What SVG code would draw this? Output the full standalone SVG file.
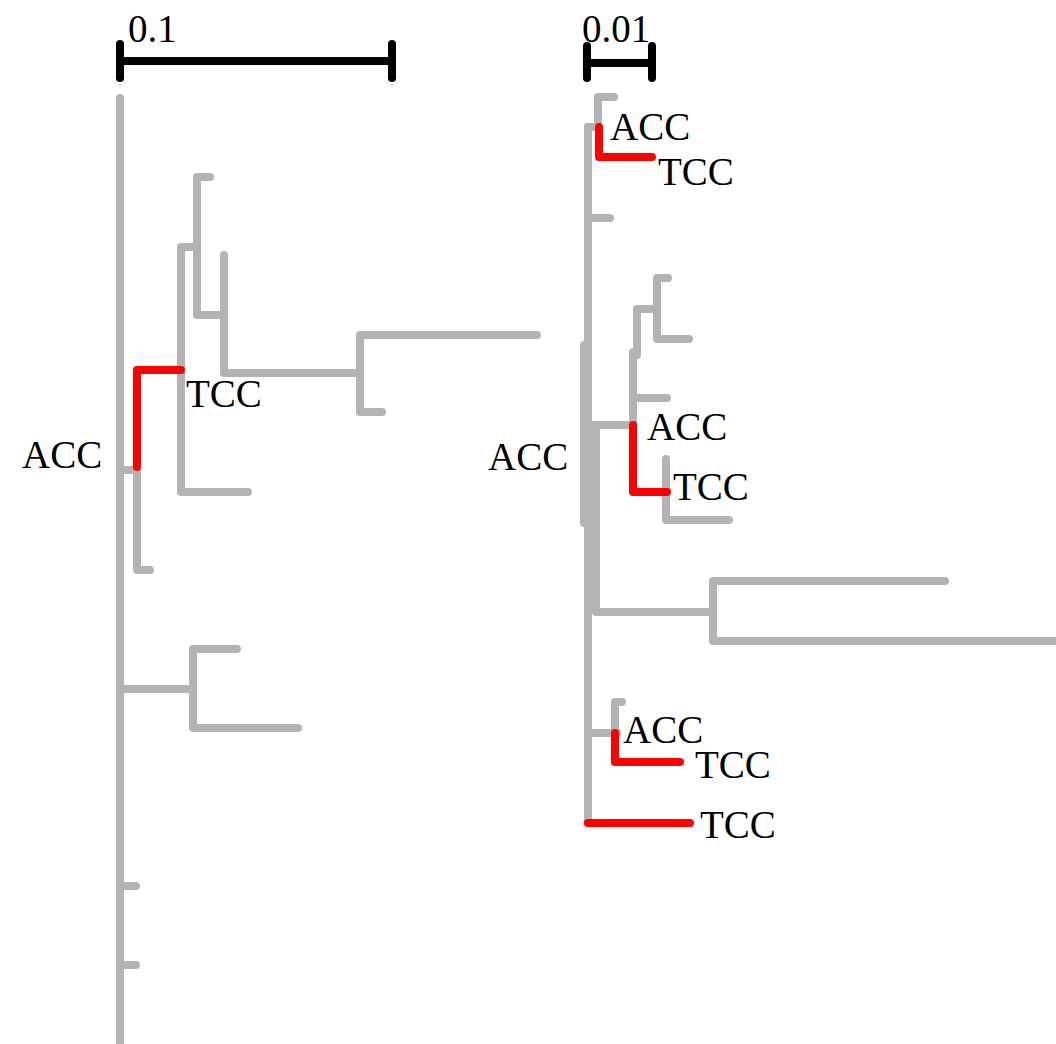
<svg xmlns="http://www.w3.org/2000/svg" width="1056" height="1044" viewBox="0 0 1056 1044">
<style>
.g{fill:none;stroke:#b3b3b3;stroke-width:8;stroke-linecap:round;stroke-linejoin:round}
.r{fill:none;stroke:#ff0000;stroke-width:8;stroke-linecap:round;stroke-linejoin:round}
.k{fill:none;stroke:#000;stroke-width:8;stroke-linecap:round}
text{font-family:"Liberation Serif","Times New Roman",serif;font-size:39px;fill:#000}
</style>
<rect width="1056" height="1044" fill="#fff"/>
<g id="scalebars">
<path class="k" d="M120 44V78M120 61H392M392 44V78"/>
<text x="128" y="42">0.1</text>
<path class="k" d="M587 46V78M587 63H652M652 46V78"/>
<text x="582" y="42">0.01</text>
</g>
<g id="connectors">
<g id="left-tree">
<path class="g" d="M120 98V1048"/>
<path class="g" d="M120 470H137V570H150"/>
<path class="g" d="M181 492H248M181 492V247H197M197 177H210M197 177V315H224M224 255V373H360M360 335V412M360 335H537M360 412H382"/>
<path class="g" d="M120 689H193M193 649V728M193 649H237M193 728H298"/>
<path class="g" d="M120 886H136M120 965H136"/>
<path class="r" d="M137 467V370H181"/>
</g>
<g id="right-tree">
<path class="g" d="M598 97H614M598 97V127M588 127H599"/>
<path class="g" d="M588 127V823"/>
<path class="g" d="M588 218H610"/>
<path class="g" d="M584 345V523"/>
<path class="g" d="M588 425H633M596 425V612H713"/>
<path class="g" d="M633 352V425M633 398H667M637 309V355M637 309H657M657 278V339M657 278H668M657 339H689"/>
<path class="g" d="M666 459V520H729"/>
<path class="g" d="M713 581V641M713 581H945M713 641H1060"/>
<path class="g" d="M588 733H617M615 702V733M615 702H622"/>
<path class="r" d="M599 127V157H652"/>
<path class="r" d="M633 425V492H667"/>
<path class="r" d="M615 733V762H680"/>
<path class="r" d="M588 823H690"/>
</g>
</g>
<g id="label-left-tcc"><text x="186" y="407">TCC</text></g>
<g id="label-left-acc"><text x="22" y="468">ACC</text></g>
<g id="label-r-acc1"><text x="610" y="140">ACC</text></g>
<g id="label-r-tcc1"><text x="658" y="185">TCC</text></g>
<g id="label-r-acc-root"><text x="488" y="470">ACC</text></g>
<g id="label-r-acc2"><text x="647" y="440">ACC</text></g>
<g id="label-r-tcc2"><text x="673" y="500">TCC</text></g>
<g id="label-r-acc3"><text x="623" y="743">ACC</text></g>
<g id="label-r-tcc3"><text x="695" y="778">TCC</text></g>
<g id="label-r-tcc4"><text x="700" y="838">TCC</text></g>
</svg>
